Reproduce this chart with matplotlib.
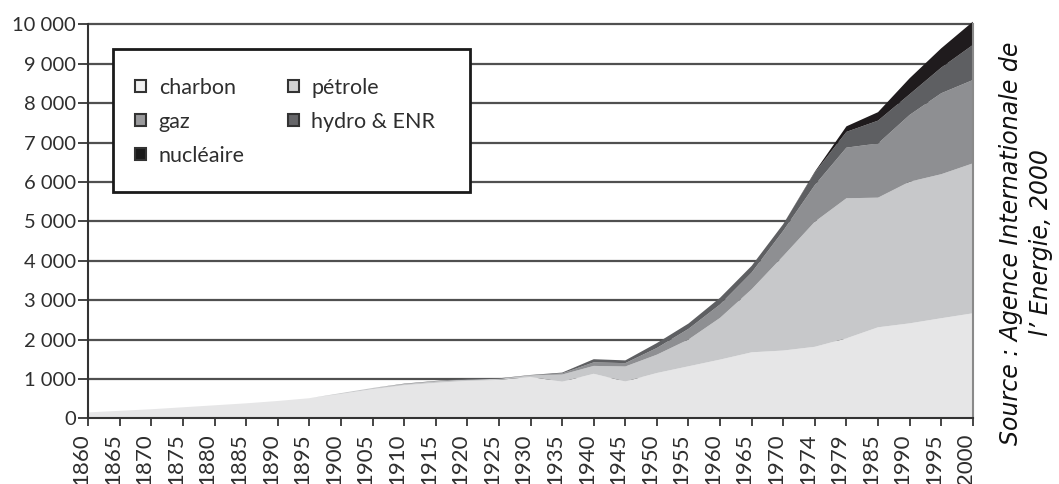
import matplotlib
matplotlib.use("Agg")
import matplotlib.pyplot as plt
from matplotlib.patches import Patch, Rectangle
from matplotlib.transforms import ScaledTranslation
import numpy as np

years = ["1860", "1865", "1870", "1875", "1880", "1885", "1890", "1895", "1900",
         "1905", "1910", "1915", "1920", "1925", "1930", "1935", "1940", "1945",
         "1950", "1955", "1960", "1965", "1970", "1974", "1979", "1985", "1990",
         "1995", "2000"]

charbon   = [150, 190, 230, 280, 330, 380, 440, 510, 620, 740, 840, 900, 950, 975,
             1050, 930, 1130, 935, 1150, 1320, 1490, 1675, 1720, 1815, 2030, 2310,
             2410, 2540, 2665]
petrole   = [0, 0, 0, 0, 0, 0, 0, 0, 20, 30, 30, 40, 30, 30, 40, 180, 200, 380,
             465, 680, 1060, 1600, 2400, 3175, 3555, 3290, 3595, 3655, 3805]
gaz       = [0, 0, 0, 0, 0, 0, 0, 0, 0, 0, 0, 0, 10, 0, 0, 30, 90, 85, 170, 270,
             340, 425, 640, 930, 1285, 1375, 1695, 2055, 2115]
hydro     = [0, 0, 0, 0, 0, 0, 0, 0, 0, 0, 10, 10, 20, 10, 10, 20, 80, 70, 125,
             135, 170, 170, 170, 320, 400, 580, 525, 650, 890]
nucleaire = [0, 0, 0, 0, 0, 0, 0, 0, 0, 0, 0, 0, 0, 0, 0, 0, 0, 0, 0, 0, 0, 0,
             0, 20, 140, 215, 405, 490, 590]

series_labels = ["charbon", "pétrole", "gaz", "hydro & ENR", "nucléaire"]
colors = ["#e6e6e7", "#c7c8ca", "#8e8f92", "#5e5f62", "#1f1b1d"]
legend_colors = ["#f2f2f2", "#d2d2d2", "#9a9a9c", "#666669", "#1a1a1a"]
yticks = list(range(0, 10001, 1000))
ytick_labels = ["0", "1 000", "2 000", "3 000", "4 000", "5 000", "6 000",
                "7 000", "8 000", "9 000", "10 000"]

plt.rcParams['font.family'] = ['Lato', 'DejaVu Sans']

fig = plt.figure(figsize=(10.59, 4.84), dpi=100)
ax = fig.add_axes([88.3 / 1059, (484 - 418.3) / 484, 884.5 / 1059, 397.15 / 484])

x = np.arange(len(years))
ax.stackplot(x, charbon, petrole, gaz, hydro, nucleaire, colors=colors,
             linewidth=0, zorder=2)

ax.set_xlim(0, len(years) - 1)
ax.set_ylim(0, 10080)
ax.set_yticks(yticks)
ax.set_yticklabels(ytick_labels, fontsize=14.5, color="#2e2e2e")
ax.set_xticks(x)
ax.set_xticklabels(years, rotation=90, fontsize=16, color="#2e2e2e")
ax.tick_params(axis="y", length=7, width=1.4, color="#444", pad=2)
ax.tick_params(axis="x", length=6, width=1.4, color="#444", pad=5)
shift = ScaledTranslation(-7 / 100, 0, fig.dpi_scale_trans)
for lab in ax.get_xticklabels():
    lab.set_transform(lab.get_transform() + shift)

ax.yaxis.grid(True, color="#505050", linewidth=1.6)
ax.set_axisbelow(True)

ax.spines["top"].set_visible(False)
ax.spines["left"].set_color("#333")
ax.spines["left"].set_linewidth(1.5)
ax.spines["left"].set_bounds(0, 10000)
ax.spines["bottom"].set_color("#333")
ax.spines["bottom"].set_linewidth(1.5)
ax.spines["right"].set_color("#8a8a8a")
ax.spines["right"].set_linewidth(1.5)
ax.spines["right"].set_bounds(0, 10000)

# legend frame
ax.add_patch(Rectangle((0.0274, 0.5686), 0.4315 - 0.0274, 0.930 - 0.5686,
                       transform=ax.transAxes, facecolor="white",
                       edgecolor="#1a1a1a", linewidth=2, zorder=5))

handles = [Patch(facecolor=legend_colors[i], edgecolor="#333", linewidth=1.5,
                 label=series_labels[i]) for i in range(5)]
order = [0, 2, 4, 1, 3]
leg = ax.legend([handles[i] for i in order], [series_labels[i] for i in order],
                ncol=2, loc="upper left", bbox_to_anchor=(0.0528, 0.858),
                frameon=False, fontsize=15.5, handlelength=0.5, handleheight=0.5,
                handletextpad=0.6, labelspacing=0.65, columnspacing=2.0,
                borderpad=0, borderaxespad=0)
leg.set_zorder(6)
for t in leg.get_texts():
    t.set_color("#2e2e2e")

fig.text(1026 / 1059, 1 - 243 / 484,
         "Source : Agence Internationale de\nl’ Energie, 2000",
         rotation=90, ha="center", va="center", style="italic",
         fontsize=17, family="DejaVu Sans", color="#111", linespacing=1.36)

fig.savefig("out.png", dpi=100)
